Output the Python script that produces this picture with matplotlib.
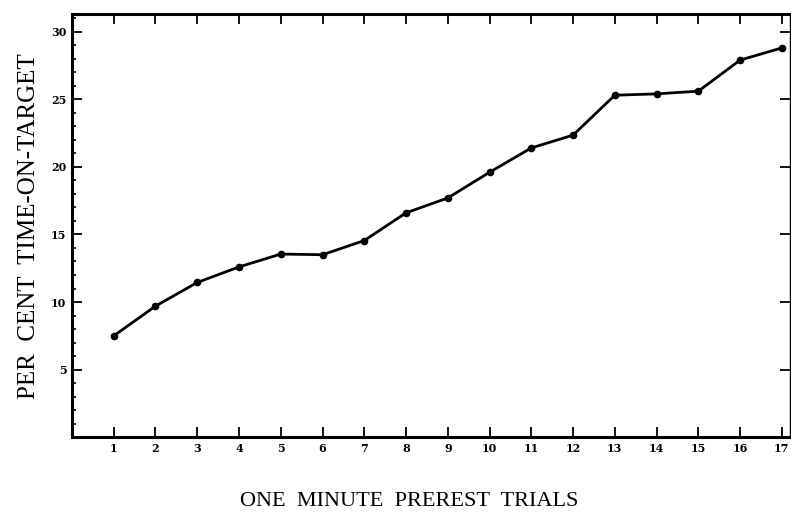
import numpy as np
from matplotlib import pyplot as plt
from matplotlib.ticker import MultipleLocator

# per cent time-on-target for each one minute prerest trial
trials = np.arange(1, 18)
time_on_target = [7.5, 9.7, 11.45, 12.6, 13.55, 13.5, 14.55, 16.6, 17.7,
                  19.6, 21.4, 22.35, 25.3, 25.4, 25.6, 27.9, 28.8]
y_ticks = [5, 10, 15, 20, 25, 30]

fig = plt.figure(figsize=(7.91, 5.23), dpi=100)
ax = fig.add_axes([0.091, 0.164, 0.908, 0.809])

ax.plot(trials, time_on_target, color='black', linewidth=2.0,
        marker='o', markersize=4.5)

# Scaling
ax.set_xlim(0, 17.2)
ax.set_ylim(0, 31.3)

ax.set_xticks(trials)
ax.set_xticklabels([str(t) for t in trials], fontsize=8,
                   fontweight='bold', family='DejaVu Serif')
ax.set_yticks(y_ticks)
ax.set_yticklabels([str(v) for v in y_ticks], fontsize=8,
                   fontweight='bold', family='DejaVu Serif')
ax.yaxis.set_minor_locator(MultipleLocator(1))

ax.tick_params(axis='both', which='major', direction='in', length=7,
               width=1.3, top=True, right=True, pad=4)
ax.tick_params(axis='y', which='minor', direction='in', length=3,
               width=1.2, right=False)

for side in ['left', 'bottom', 'top']:
    ax.spines[side].set_linewidth(2.2)
ax.spines['right'].set_linewidth(1.0)

ax.set_xlabel('ONE  MINUTE  PREREST  TRIALS', family='Liberation Serif',
              fontsize=16)
ax.xaxis.set_label_coords(0.47, -0.13)
ax.set_ylabel('PER  CENT  TIME-ON-TARGET', family='Liberation Serif',
              fontsize=18)
ax.yaxis.set_label_coords(-0.045, 0.5)

fig.savefig('out.png', dpi=100)
